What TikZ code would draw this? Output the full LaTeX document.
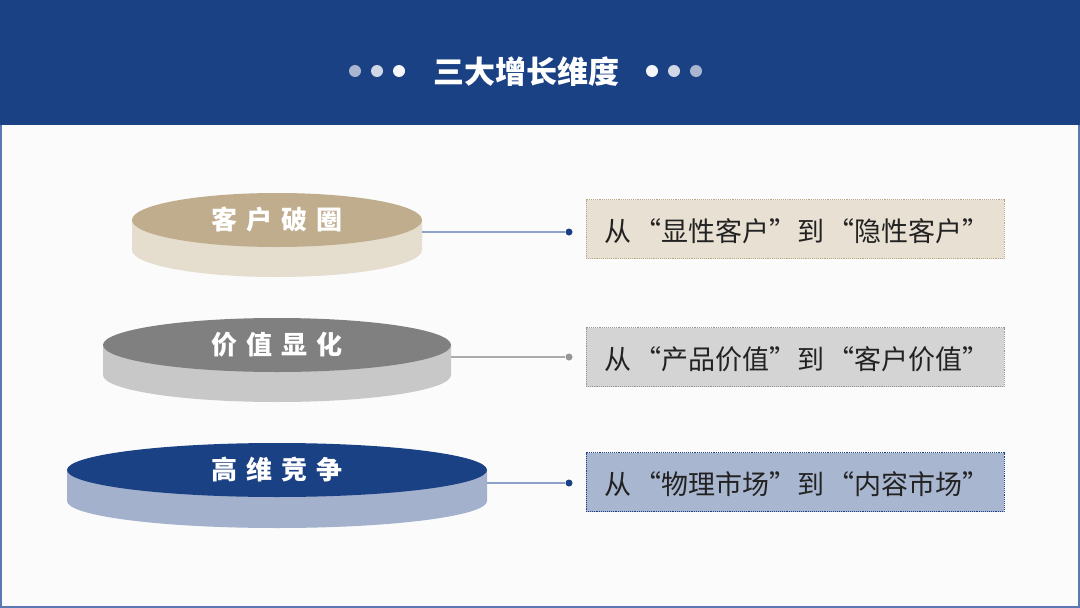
\documentclass[tikz,border=0pt]{standalone}
\usepackage{fontspec}
\newfontfamily\cjk{Noto Sans CJK SC}
\usetikzlibrary{shapes.geometric}
\definecolor{hdr}{RGB}{27,65,133}
\definecolor{frameblue}{RGB}{92,120,178}
\definecolor{tanTop}{RGB}{192,173,141}
\definecolor{tanSide}{RGB}{229,221,206}
\definecolor{greyTop}{RGB}{128,128,128}
\definecolor{greySide}{RGB}{200,200,200}
\definecolor{blueTop}{RGB}{27,65,133}
\definecolor{blueSide}{RGB}{163,177,204}
\definecolor{boxTan}{RGB}{232,225,211}
\definecolor{boxTanLine}{RGB}{184,168,136}
\definecolor{boxGrey}{RGB}{212,212,212}
\definecolor{boxGreyLine}{RGB}{150,150,150}
\definecolor{boxBlue}{RGB}{168,182,208}
\definecolor{linkBlue}{RGB}{140,160,200}
\definecolor{txt}{RGB}{34,34,34}
\newcommand{\myopenq}{\hspace{3pt}“}
\newcommand{\myclosq}{”\hspace{1pt}}
\begin{document}
\begin{tikzpicture}[x=1pt,y=-1pt,
  disktop/.style={ellipse,inner sep=0pt,minimum width=#1,minimum height=54pt,
    font=\cjk\bfseries\fontsize{26}{26}\selectfont,text=white},
  infobox/.style={rectangle,inner sep=0pt,minimum width=418pt,minimum height=59pt,
    densely dotted,line width=0.9pt},
  boxtext/.style={font=\cjk\fontsize{27}{27}\selectfont,text=txt,anchor=west,inner sep=0pt},
  linkdot/.style={circle,inner sep=0pt,minimum size=7pt},
  link/.style={line width=1.2pt},
  hdot/.style={circle,inner sep=0pt,minimum size=12pt}
]
\useasboundingbox (0,0) rectangle (1080,608);
% background
\fill[white!97!gray] (0,0) rectangle (1080,608);
\draw[frameblue,line width=1.6pt] (0.8,0.8) rectangle (1079.2,607.2);
\fill[hdr] (0,0) rectangle (1080,125);

% title
\node[font=\cjk\bfseries\fontsize{31}{31}\selectfont,text=white,inner sep=0pt] (title) at (526,72) {三大增长维度};
\node[hdot,fill={rgb,255:red,170;green,182;blue,208}] (l1) at (355,71) {};
\node[hdot,fill={rgb,255:red,208;green,216;blue,230}] (l2) at (377,71) {};
\node[hdot,fill={rgb,255:red,244;green,246;blue,250}] (l3) at (399,71) {};
\node[hdot,fill={rgb,255:red,244;green,246;blue,250}] (r1) at (652,71) {};
\node[hdot,fill={rgb,255:red,208;green,216;blue,230}] (r2) at (674,71) {};
\node[hdot,fill={rgb,255:red,170;green,182;blue,208}] (r3) at (696,71) {};

% disk 1
\fill[tanSide] (132,220) -- (132,250) arc[start angle=180,end angle=0,x radius=145,y radius=27] -- (422,220) -- cycle;
\node[disktop=290pt,fill=tanTop] (d1) at (277,220) {客\hspace{9pt}户\hspace{9pt}破\hspace{9pt}圈};
\coordinate (d1r) at (422,232);
% disk 2
\fill[greySide] (103,345) -- (103,375) arc[start angle=180,end angle=0,x radius=174,y radius=27] -- (451,345) -- cycle;
\node[disktop=348pt,fill=greyTop] (d2) at (277,345) {价\hspace{9pt}值\hspace{9pt}显\hspace{9pt}化};
\coordinate (d2r) at (451,357);
% disk 3
\fill[blueSide] (67,470) -- (67,501) arc[start angle=180,end angle=0,x radius=210,y radius=27] -- (487,470) -- cycle;
\node[disktop=420pt,fill=blueTop] (d3) at (277,470) {高\hspace{9pt}维\hspace{9pt}竞\hspace{9pt}争};
\coordinate (d3r) at (487,483);

% boxes
\node[infobox,fill=boxTan,draw=boxTanLine] (b1) at (795,229) {};
\node[boxtext] (t1) at (604,231) {从\myopenq 显性客户\myclosq 到\myopenq 隐性客户”};
\node[infobox,fill=boxGrey,draw=boxGreyLine] (b2) at (795,357) {};
\node[boxtext] (t2) at (604,359) {从\myopenq 产品价值\myclosq 到\myopenq 客户价值”};
\node[infobox,fill=boxBlue,draw=hdr] (b3) at (795,482) {};
\node[boxtext] (t3) at (604,484) {从\myopenq 物理市场\myclosq 到\myopenq 内容市场”};

% connectors
\node[linkdot,fill=hdr] (p1) at (569,232) {};
\node[linkdot,fill=boxGreyLine] (p2) at (569,357) {};
\node[linkdot,fill=hdr] (p3) at (569,483) {};
\draw[link,linkBlue] (d1r) -- (p1);
\draw[link,boxGreyLine!80] (d2r) -- (p2);
\draw[link,linkBlue] (d3r) -- (p3);
\end{tikzpicture}
\end{document}
